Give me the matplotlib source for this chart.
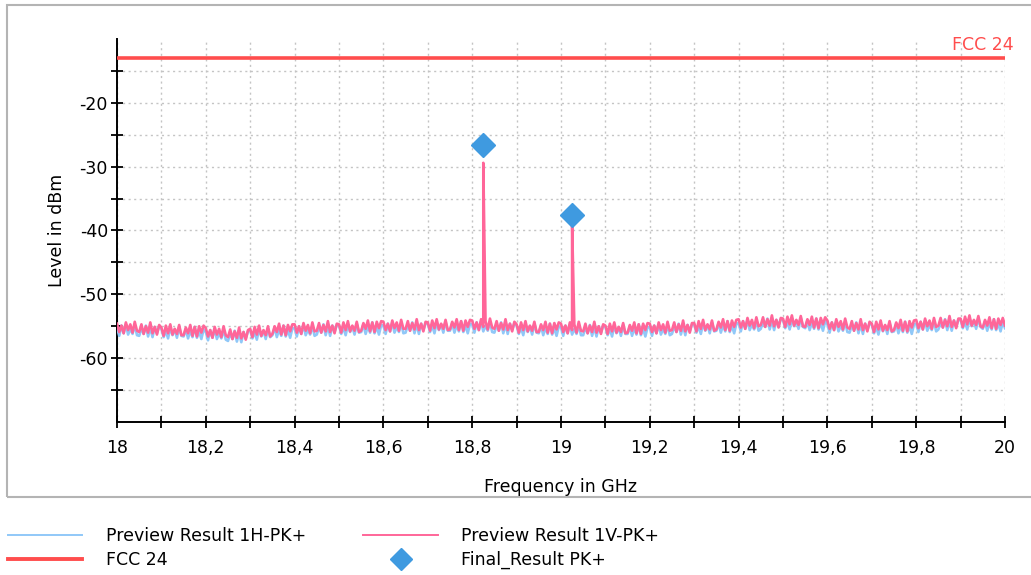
import numpy as np
import matplotlib
matplotlib.use("Agg")
import matplotlib.pyplot as plt
from matplotlib.patches import Rectangle
from matplotlib.lines import Line2D

# ---------------- data ----------------
freq_start, freq_stop, freq_step = 18.0, 20.0, 0.005

level_1v = [
    -54.6, -55.9, -54.9, -56.1, -54.4, -55.6, -54.7, -56.0, -54.3, -55.7,
    -55.9, -54.7, -56.2, -55.0, -56.0, -54.4, -56.1, -55.1, -56.3, -54.8,
    -55.2, -56.5, -54.9, -56.1, -54.7, -56.3, -55.4, -56.2, -54.8, -56.4,
    -56.4, -55.2, -56.1, -54.8, -56.5, -55.1, -56.6, -55.0, -56.0, -54.9,
    -55.3, -56.6, -55.6, -56.8, -55.1, -56.3, -55.4, -56.7, -55.0, -56.4,
    -56.7, -55.5, -57.0, -55.8, -56.8, -55.2, -56.9, -55.9, -57.1, -55.6,
    -55.4, -56.7, -55.1, -56.3, -54.9, -56.5, -55.6, -56.4, -55.0, -56.6,
    -56.2, -55.0, -55.9, -54.6, -56.3, -54.9, -56.4, -54.8, -55.8, -54.7,
    -54.7, -56.0, -55.0, -56.2, -54.5, -55.7, -54.8, -56.1, -54.4, -55.8,
    -55.7, -54.5, -56.0, -54.8, -55.8, -54.2, -55.9, -54.9, -56.1, -54.6,
    -54.7, -56.0, -54.4, -55.6, -54.2, -55.8, -54.9, -55.7, -54.3, -55.9,
    -55.7, -54.5, -55.4, -54.1, -55.8, -54.4, -55.9, -54.3, -55.3, -54.2,
    -54.3, -55.6, -54.6, -55.8, -54.1, -55.3, -54.4, -55.7, -54.0, -55.4,
    -55.4, -54.2, -55.7, -54.5, -55.5, -53.9, -55.6, -54.6, -55.8, -54.3,
    -54.4, -55.7, -54.1, -55.3, -53.9, -55.5, -54.6, -55.4, -54.0, -55.6,
    -55.5, -54.3, -55.2, -53.9, -55.6, -54.2, -55.7, -54.1, -55.1, -54.0,
    -54.1, -55.4, -54.4, -55.6, -53.9, -55.1, -54.2, -55.5, -53.8, -55.2,
    -55.4, -54.2, -55.7, -54.5, -55.5, -53.9, -55.6, -54.6, -55.8, -54.3,
    -54.7, -56.0, -54.4, -55.6, -54.2, -55.8, -54.9, -55.7, -54.3, -55.9,
    -55.9, -54.7, -55.6, -54.3, -56.0, -54.6, -56.1, -54.5, -55.5, -54.4,
    -54.6, -55.9, -54.9, -56.1, -54.4, -55.6, -54.7, -56.0, -54.3, -55.7,
    -55.8, -54.6, -56.1, -54.9, -55.9, -54.3, -56.0, -55.0, -56.2, -54.7,
    -54.9, -56.2, -54.6, -55.8, -54.4, -56.0, -55.1, -55.9, -54.5, -56.1,
    -56.0, -54.8, -55.7, -54.4, -56.1, -54.7, -56.2, -54.6, -55.6, -54.5,
    -54.6, -55.9, -54.9, -56.1, -54.4, -55.6, -54.7, -56.0, -54.3, -55.7,
    -55.6, -54.4, -55.9, -54.7, -55.7, -54.1, -55.8, -54.8, -56.0, -54.5,
    -54.5, -55.8, -54.2, -55.4, -54.0, -55.6, -54.7, -55.5, -54.1, -55.7,
    -55.5, -54.3, -55.2, -53.9, -55.6, -54.2, -55.7, -54.1, -55.1, -54.0,
    -53.9, -55.2, -54.2, -55.4, -53.7, -54.9, -54.0, -55.3, -53.6, -55.0,
    -54.8, -53.6, -55.1, -53.9, -54.9, -53.3, -55.0, -54.0, -55.2, -53.7,
    -53.8, -55.1, -53.5, -54.7, -53.3, -54.9, -54.0, -54.8, -53.4, -55.0,
    -55.1, -53.9, -54.8, -53.5, -55.2, -53.8, -55.3, -53.7, -54.7, -53.6,
    -54.1, -55.4, -54.4, -55.6, -53.9, -55.1, -54.2, -55.5, -53.8, -55.2,
    -55.4, -54.2, -55.7, -54.5, -55.5, -53.9, -55.6, -54.6, -55.8, -54.3,
    -54.6, -55.9, -54.3, -55.5, -54.1, -55.7, -54.8, -55.6, -54.2, -55.8,
    -55.6, -54.4, -55.3, -54.0, -55.7, -54.3, -55.8, -54.2, -55.2, -54.1,
    -54.0, -55.3, -54.3, -55.5, -53.8, -55.0, -54.1, -55.4, -53.7, -55.1,
    -54.9, -53.7, -55.2, -54.0, -55.0, -53.4, -55.1, -54.1, -55.3, -53.8,
    -53.8, -55.1, -53.5, -54.7, -53.3, -54.9, -54.0, -54.8, -53.4, -55.0,
    -55.2, -54.0, -54.9, -53.6, -55.3, -53.9, -55.4, -53.8, -54.8, -53.7,
    -54.9,
]

level_1h = [
    -55.2, -56.5, -54.9, -56.1, -54.7, -56.3, -55.4, -56.2, -54.8, -56.4,
    -56.5, -55.3, -56.2, -54.9, -56.6, -55.2, -56.7, -55.1, -56.1, -55.0,
    -55.4, -56.7, -55.7, -56.9, -55.2, -56.4, -55.5, -56.8, -55.1, -56.5,
    -56.6, -55.4, -56.9, -55.7, -56.7, -55.1, -56.8, -55.8, -57.0, -55.5,
    -55.9, -57.2, -55.6, -56.8, -55.4, -57.0, -56.1, -56.9, -55.5, -57.1,
    -57.3, -56.1, -57.0, -55.7, -57.4, -56.0, -57.5, -55.9, -56.9, -55.8,
    -55.6, -56.9, -55.9, -57.1, -55.4, -56.6, -55.7, -57.0, -55.3, -56.7,
    -56.4, -55.2, -56.7, -55.5, -56.5, -54.9, -56.6, -55.6, -56.8, -55.3,
    -55.3, -56.6, -55.0, -56.2, -54.8, -56.4, -55.5, -56.3, -54.9, -56.5,
    -56.3, -55.1, -56.0, -54.7, -56.4, -55.0, -56.5, -54.9, -55.9, -54.8,
    -54.9, -56.2, -55.2, -56.4, -54.7, -55.9, -55.0, -56.3, -54.6, -56.0,
    -55.9, -54.7, -56.2, -55.0, -56.0, -54.4, -56.1, -55.1, -56.3, -54.8,
    -54.9, -56.2, -54.6, -55.8, -54.4, -56.0, -55.1, -55.9, -54.5, -56.1,
    -56.0, -54.8, -55.7, -54.4, -56.1, -54.7, -56.2, -54.6, -55.6, -54.5,
    -54.6, -55.9, -54.9, -56.1, -54.4, -55.6, -54.7, -56.0, -54.3, -55.7,
    -55.7, -54.5, -56.0, -54.8, -55.8, -54.2, -55.9, -54.9, -56.1, -54.6,
    -54.7, -56.0, -54.4, -55.6, -54.2, -55.8, -54.9, -55.7, -54.3, -55.9,
    -56.0, -54.8, -55.7, -54.4, -56.1, -54.7, -56.2, -54.6, -55.6, -54.5,
    -54.9, -56.2, -55.2, -56.4, -54.7, -55.9, -55.0, -56.3, -54.6, -56.0,
    -56.1, -54.9, -56.4, -55.2, -56.2, -54.6, -56.3, -55.3, -56.5, -55.0,
    -55.2, -56.5, -54.9, -56.1, -54.7, -56.3, -55.4, -56.2, -54.8, -56.4,
    -56.4, -55.2, -56.1, -54.8, -56.5, -55.1, -56.6, -55.0, -56.0, -54.9,
    -55.1, -56.4, -55.4, -56.6, -54.9, -56.1, -55.2, -56.5, -54.8, -56.2,
    -56.2, -55.0, -56.5, -55.3, -56.3, -54.7, -56.4, -55.4, -56.6, -55.1,
    -55.2, -56.5, -54.9, -56.1, -54.7, -56.3, -55.4, -56.2, -54.8, -56.4,
    -56.2, -55.0, -55.9, -54.6, -56.3, -54.9, -56.4, -54.8, -55.8, -54.7,
    -54.7, -56.0, -55.0, -56.2, -54.5, -55.7, -54.8, -56.1, -54.4, -55.8,
    -55.7, -54.5, -56.0, -54.8, -55.8, -54.2, -55.9, -54.9, -56.1, -54.6,
    -54.5, -55.8, -54.2, -55.4, -54.0, -55.6, -54.7, -55.5, -54.1, -55.7,
    -55.4, -54.2, -55.1, -53.8, -55.5, -54.1, -55.6, -54.0, -55.0, -53.9,
    -54.0, -55.3, -54.3, -55.5, -53.8, -55.0, -54.1, -55.4, -53.7, -55.1,
    -55.3, -54.1, -55.6, -54.4, -55.4, -53.8, -55.5, -54.5, -55.7, -54.2,
    -54.7, -56.0, -54.4, -55.6, -54.2, -55.8, -54.9, -55.7, -54.3, -55.9,
    -56.0, -54.8, -55.7, -54.4, -56.1, -54.7, -56.2, -54.6, -55.6, -54.5,
    -54.8, -56.1, -55.1, -56.3, -54.6, -55.8, -54.9, -56.2, -54.5, -55.9,
    -55.8, -54.6, -56.1, -54.9, -55.9, -54.3, -56.0, -55.0, -56.2, -54.7,
    -54.6, -55.9, -54.3, -55.5, -54.1, -55.7, -54.8, -55.6, -54.2, -55.8,
    -55.5, -54.3, -55.2, -53.9, -55.6, -54.2, -55.7, -54.1, -55.1, -54.0,
    -54.0, -55.3, -54.3, -55.5, -53.8, -55.0, -54.1, -55.4, -53.7, -55.1,
    -55.4, -54.2, -55.7, -54.5, -55.5, -53.9, -55.6, -54.6, -55.8, -54.3,
    -55.3,
]

# spikes in the 1V-PK+ preview trace
spike_freq = [18.825, 19.025]
spike_level = [-29.4, -39.0]

# final result points
final_freq = [18.825, 19.025]
final_level = [-26.6, -37.5]

# limit line
limit_name = "FCC 24"
limit_level = -13.0

xtick_major = [18.0, 18.2, 18.4, 18.6, 18.8, 19.0, 19.2, 19.4, 19.6, 19.8, 20.0]
xtick_labels = ["18", "18,2", "18,4", "18,6", "18,8", "19", "19,2", "19,4", "19,6", "19,8", "20"]
ytick_major = [-60, -50, -40, -30, -20]
ytick_minor = [-65, -55, -45, -35, -25, -15]

# ---------------- build traces ----------------
freq = np.round(np.arange(len(level_1v)) * freq_step + freq_start, 4)
fv = np.concatenate([freq, spike_freq])
lv = np.concatenate([level_1v, spike_level])
order = np.argsort(fv, kind="stable")
fv, lv = fv[order], lv[order]

# ---------------- style ----------------
plt.rcParams["font.family"] = ["DejaVu Sans"]
plt.rcParams["axes.unicode_minus"] = False
FS = 12.5
C_H = "#90c8f8"
C_V = "#ff6699"
C_LIM = "#ff4d4d"
C_FIN = "#3f9ae0"

fig = plt.figure(figsize=(10.31, 5.75), dpi=100)
W, H = 1031, 575

# panel frame
fig.patches.append(Rectangle((7 / W, 1 - 497 / H), 1.2, 492 / H, transform=fig.transFigure,
                             fill=False, edgecolor="#b4b4b4", linewidth=1.5))

ax = fig.add_axes([117 / W, 1 - 422 / H, (1005 - 117) / W, (422 - 39) / H])
ax.set_xlim(freq_start, freq_stop)
ax.set_ylim(-70, -10)

ax.plot(freq, level_1h, color=C_H, lw=1.9, zorder=3)
ax.plot(fv, lv, color=C_V, lw=1.9, zorder=4)
ax.plot([freq_start, freq_stop], [limit_level, limit_level], color=C_LIM, lw=2.6,
        solid_capstyle="butt", zorder=5, clip_on=False)
ax.plot(final_freq, final_level, linestyle="none", marker="D", markersize=12,
        color=C_FIN, zorder=6)
ax.annotate(limit_name, xy=(freq_stop, limit_level), xytext=(6, 3), textcoords="offset points",
            ha="right", va="bottom", color=C_LIM, fontsize=FS)

for s in ["top", "right"]:
    ax.spines[s].set_visible(False)
for s in ["left", "bottom"]:
    ax.spines[s].set_linewidth(1.4)
    ax.spines[s].set_color("black")

ax.set_xticks(xtick_major)
ax.set_xticklabels(xtick_labels)
ax.set_xticks(np.round(np.arange(18.1, 20.0, 0.2), 2), minor=True)
ax.set_yticks(ytick_major)
ax.set_yticks(ytick_minor, minor=True)

ax.tick_params(axis="both", which="both", direction="inout", length=9, width=1.3, color="black")
ax.tick_params(axis="x", which="major", labelsize=FS, pad=8)
ax.tick_params(axis="y", which="major", labelsize=FS, pad=2)

ax.grid(True, which="both", color="#c4c4c4", linestyle=(0, (1.5, 2.5)), linewidth=1.0)
ax.set_axisbelow(True)

ax.set_xlabel("Frequency in GHz", fontsize=FS, labelpad=15)
ax.set_ylabel("Level in dBm", fontsize=FS, labelpad=10)

# legend
handles = [
    Line2D([], [], color=C_H, lw=1.4),
    Line2D([], [], color=C_LIM, lw=2.8),
    Line2D([], [], color=C_V, lw=1.4),
    Line2D([], [], color=C_FIN, marker="D", markersize=11, linestyle="none"),
]
labels = ["Preview Result 1H-PK+", limit_name, "Preview Result 1V-PK+", "Final_Result PK+"]
fig.legend(handles, labels, ncol=2, loc="upper left", bbox_to_anchor=(0.004, 1 - 524 / H),
           frameon=False, fontsize=FS, handlelength=4.3, handletextpad=1.35,
           columnspacing=3.3, labelspacing=0.3, borderaxespad=0.0, borderpad=0.2)

fig.savefig("out.png", dpi=100)
